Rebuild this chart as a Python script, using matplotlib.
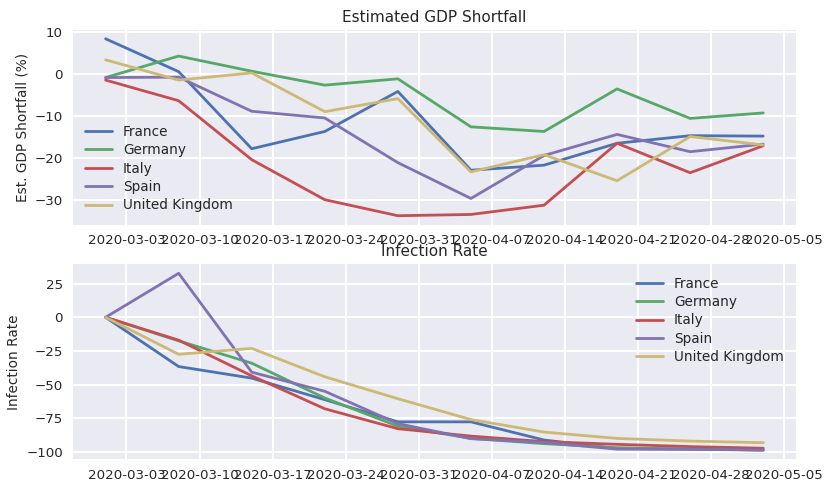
import numpy as np
import matplotlib
matplotlib.use('Agg')
from matplotlib import pyplot as plt
import matplotlib.dates as mdates
from matplotlib.ticker import MultipleLocator

plt.style.use('seaborn-v0_8')
plt.rcParams['font.family'] = ['DejaVu Sans']
plt.rcParams['grid.linewidth'] = 1.4

# semanas (domingos)
dates = np.array(['2020-03-01', '2020-03-08', '2020-03-15', '2020-03-22', '2020-03-29',
                  '2020-04-05', '2020-04-12', '2020-04-19', '2020-04-26', '2020-05-03'],
                 dtype='datetime64[D]')
countries = ['France', 'Germany', 'Italy', 'Spain', 'United Kingdom']

# estimativa de queda do PIB (%)
gdp_france = [8.3, 0.5, -17.8, -13.7, -4.2, -22.9, -21.7, -16.5, -14.7, -14.8]
gdp_germany = [-0.9, 4.2, 0.6, -2.7, -1.2, -12.6, -13.7, -3.6, -10.6, -9.3]
gdp_italy = [-1.5, -6.4, -20.4, -29.9, -33.7, -33.4, -31.2, -16.5, -23.5, -17.1]
gdp_spain = [-0.9, -0.8, -8.9, -10.5, -21.1, -29.6, -19.4, -14.4, -18.5, -16.7]
gdp_uk = [3.3, -1.5, 0.2, -9.0, -5.9, -23.3, -19.2, -25.4, -14.9, -16.9]

# taxa de infecção
inf_france = [0, -36.6, -45.2, -61.2, -77.7, -77.7, -91.2, -97.6, -98.0, -98.5]
inf_germany = [0, -17.5, -34.1, -60.0, -80.9, -90.0, -93.9, -96.9, -98.0, -98.5]
inf_italy = [0, -17.0, -43.5, -68.0, -82.8, -88.3, -92.4, -94.4, -96.1, -97.3]
inf_spain = [0, 32.7, -40.8, -55.0, -79.0, -90.2, -93.0, -98.0, -98.0, -98.8]
inf_uk = [0, -27.5, -23.1, -44.2, -60.5, -76.0, -85.3, -90.0, -92.0, -93.2]

gdp = [gdp_france, gdp_germany, gdp_italy, gdp_spain, gdp_uk]
inf = [inf_france, inf_germany, inf_italy, inf_spain, inf_uk]

fig, (ax1, ax2) = plt.subplots(2, 1, figsize=(8.31, 4.91), dpi=100)
fig.subplots_adjust(left=0.0875, right=0.958, top=0.939, bottom=0.065, hspace=0.205)

for name, serie in zip(countries, gdp):
    ax1.plot(dates, serie, label=name, linewidth=2)
ax1.set_title('Estimated GDP Shortfall', fontsize=11)
ax1.set_ylabel('Est. GDP Shortfall (%)', fontsize=9.8)
ax1.legend(loc='lower left', fontsize=9.8, labelspacing=0.32)

for name, serie in zip(countries, inf):
    ax2.plot(dates, serie, label=name, linewidth=2)
ax2.set_title('Infection Rate', fontsize=11)
ax2.set_ylabel('Infection Rate', fontsize=9.8)
ax2.legend(loc='upper right', fontsize=9.8, labelspacing=0.32)
ax2.yaxis.set_major_locator(MultipleLocator(25))

for ax in (ax1, ax2):
    ax.xaxis.set_major_locator(mdates.WeekdayLocator(byweekday=mdates.TU))
    ax.xaxis.set_major_formatter(mdates.DateFormatter('%Y-%m-%d'))
    ax.tick_params(labelsize=9.6)

plt.savefig('out.png')
